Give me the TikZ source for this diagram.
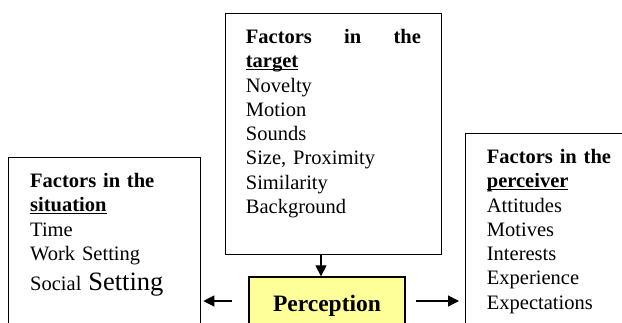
\documentclass[tikz,border=0pt]{standalone}
\usepackage{fontspec}
\setmainfont{Liberation Serif}
\usetikzlibrary{arrows.meta}
\definecolor{percyellow}{RGB}{255,255,153}
\newcommand\myul[1]{\setbox0\hbox{#1}\rlap{\rule[-2.6pt]{\wd0}{1.4pt}}\box0}
\tikzset{
  box/.style={draw=black, line width=1.3pt, inner sep=0pt, anchor=north west},
  txt/.style={inner sep=0pt, anchor=north west, align=left, font=\fontsize{20.5}{24.3}\selectfont},
  arr/.style={line width=1.2pt, -{Triangle[length=11pt,width=11pt]}}
}
\begin{document}
\begin{tikzpicture}[x=1pt,y=-1pt]
\useasboundingbox (0,0) rectangle (622,322);
\clip (0,0) rectangle (622,322);
% boxes
\node[box, minimum width=192pt, minimum height=200pt] (sitbox) at (8,157) {};
\node[box, minimum width=216pt, minimum height=241pt] (tgtbox) at (225,13) {};
\node[box, minimum width=200pt, minimum height=220pt] (perbox) at (465,133) {};
\node[draw=black, line width=1.3pt, fill=percyellow, inner sep=0pt,
      minimum width=156pt, minimum height=57pt,
      font=\fontsize{23.5}{28}\selectfont\bfseries] (perc) at (327,305.5) {Perception};
% texts
\node[txt, text width=170pt] (sittxt) at (30,173) {%
  \textbf{Factors in the}\\
  \textbf{\myul{situation}}\\
  Time\\
  Work Setting\\[5.7pt]
  Social {\fontsize{26.5}{30}\selectfont Setting}};
\node[txt, text width=176pt] (tgttxt) at (245.7,29) {%
  \makebox[175pt][l]{\bfseries Factors\hfill in\hfill the}\\
  \textbf{\myul{target}}\\
  Novelty\\
  Motion\\
  Sounds\\
  Size, Proximity\\
  Similarity\\
  Background};
\node[txt, text width=140pt] (pertxt) at (486.7,149) {%
  \textbf{Factors in the}\\
  \textbf{\myul{perceiver}}\\
  Attitudes\\
  Motives\\
  Interests\\
  Experience\\
  Expectations};
% connectors
\coordinate (dx) at (321,0);
\coordinate (lstart) at (232,301);
\coordinate (rstart) at (416,301);
\draw[arr] (tgtbox.south -| dx) -- (perc.north -| dx);
\draw[arr, shorten >=2pt] (lstart) -- (sitbox.east |- lstart);
\draw[arr, shorten >=6pt] (rstart) -- (perbox.west |- rstart);
\end{tikzpicture}
\end{document}
